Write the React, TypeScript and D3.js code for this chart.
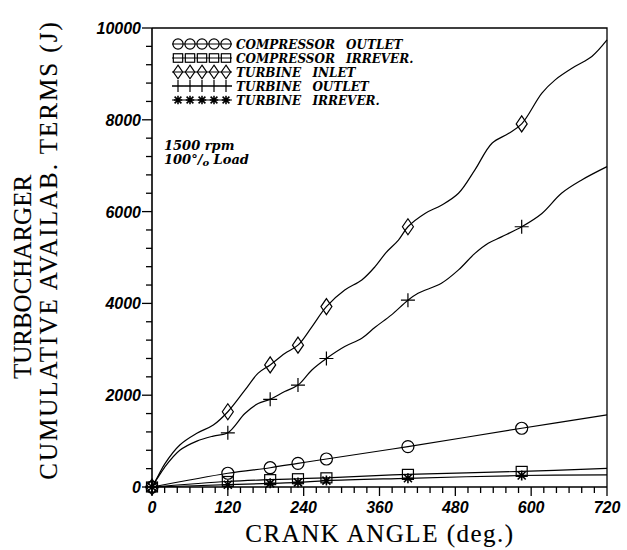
import React from "react";
import * as d3 from "d3";

// ---- data (crank angle in deg, cumulative availability terms in J) ----
const turbineInlet: [number, number][] = [
  [0, 0], [10, 250], [20, 500], [44, 915], [71, 1170], [97, 1350], [120, 1640],
  [147, 2110], [168, 2480], [187, 2660], [210, 2910], [231, 3090], [253, 3490],
  [276, 3930], [305, 4290], [332, 4510], [353, 4800], [370, 5100], [390, 5380],
  [405, 5670], [432, 5960], [458, 6140], [485, 6400], [511, 6910], [538, 7490],
  [564, 7700], [585, 7910], [617, 8580], [638, 8870], [669, 9160], [696, 9380], [720, 9740],
];
const turbineOutlet: [number, number][] = [
  [0, 0], [10, 220], [20, 430], [44, 800], [71, 1000], [97, 1110], [120, 1180],
  [147, 1600], [168, 1820], [187, 1910], [210, 2080], [231, 2220], [253, 2550],
  [276, 2800], [305, 3060], [332, 3240], [353, 3480], [379, 3750], [405, 4070],
  [421, 4220], [458, 4440], [485, 4730], [511, 5090], [532, 5310], [553, 5450],
  [585, 5670], [617, 5960], [648, 6400], [680, 6690], [720, 6980],
];
const compressorOutlet: [number, number][] = [
  [0, 0], [120, 300], [187, 420], [231, 515], [276, 610], [405, 880], [585, 1280], [720, 1570],
];
const compressorIrrever: [number, number][] = [
  [0, 0], [120, 120], [187, 160], [231, 180], [276, 200], [405, 275], [585, 340], [720, 405],
];
const turbineIrrever: [number, number][] = [
  [0, 0], [120, 50], [187, 80], [231, 100], [276, 140], [405, 190], [585, 250], [720, 265],
];
const markerAngles = [0, 120, 187, 231, 276, 405, 585];

const legendLabels = [
  "COMPRESSOR OUTLET",
  "COMPRESSOR IRREVER.",
  "TURBINE INLET",
  "TURBINE OUTLET",
  "TURBINE IRREVER.",
];
const xTicks = [0, 120, 240, 360, 480, 600, 720];
const yTicks = [0, 2000, 4000, 6000, 8000, 10000];

type Shape = "circle" | "square" | "diamond" | "plus" | "star";
const seriesList: { data: [number, number][]; shape: Shape }[] = [
  { data: compressorOutlet, shape: "circle" },
  { data: compressorIrrever, shape: "square" },
  { data: turbineInlet, shape: "diamond" },
  { data: turbineOutlet, shape: "plus" },
  { data: turbineIrrever, shape: "star" },
];

const W = 627, H = 550;
const X0 = 152, X1 = 607, Y0 = 487, Y1 = 28;
const x = d3.scaleLinear().domain([0, 720]).range([X0, X1]);
const y = d3.scaleLinear().domain([0, 10000]).range([Y0, Y1]);

function Marker({ shape, cx, cy, s = 1 }: { shape: Shape; cx: number; cy: number; s?: number }) {
  const st = { fill: "none", stroke: "#000", strokeWidth: 1.2 };
  switch (shape) {
    case "circle":
      return <circle cx={cx} cy={cy} r={6 * s} {...st} />;
    case "square":
      return <rect x={cx - 5.5 * s} y={cy - 5 * s} width={11 * s} height={10 * s} {...st} />;
    case "diamond":
      return <path d={`M${cx},${cy - 8 * s}L${cx + 5.5 * s},${cy}L${cx},${cy + 8 * s}L${cx - 5.5 * s},${cy}Z`} {...st} />;
    case "plus":
      return <path d={`M${cx - 7 * s},${cy}H${cx + 7 * s}M${cx},${cy - 7 * s}V${cy + 7 * s}`} {...st} />;
    case "star":
      return (
        <path
          d={`M${cx - 5 * s},${cy}H${cx + 5 * s}M${cx},${cy - 5 * s}V${cy + 5 * s}M${cx - 4 * s},${cy - 4 * s}L${cx + 4 * s},${cy + 4 * s}M${cx - 4 * s},${cy + 4 * s}L${cx + 4 * s},${cy - 4 * s}`}
          {...st}
          strokeWidth={1.6}
        />
      );
  }
}

export default function App() {
  const line = d3
    .line<[number, number]>()
    .x((d) => x(d[0]))
    .y((d) => y(d[1]))
    .curve(d3.curveCatmullRom.alpha(0.5));

  const xMinor = d3.range(0, 721, 20);
  const yMinor = d3.range(0, 10001, 400);

  const tickFont = { fontFamily: "Liberation Sans, Arial, sans-serif", fontWeight: 700, fontStyle: "italic", fontSize: 16 };
  const legendFont = { fontFamily: "DejaVu Serif, serif", fontWeight: 700, fontStyle: "italic", fontSize: 12 };
  const titleFont = { fontFamily: "Liberation Serif, serif", fontSize: 25, stroke: "#000", strokeWidth: 0.15 };

  return (
    <svg width={W} height={H} style={{ position: "absolute", left: 0, top: 0, background: "#fff" }}>
      <rect x={0} y={0} width={W} height={H} fill="#fff" />
      {/* frame */}
      <path d={`M${X0},${Y1}H${X1}V${Y0}`} fill="none" stroke="#000" strokeWidth={1.3} />
      <path d={`M${X0},${Y1}V${Y0}H${X1}`} fill="none" stroke="#000" strokeWidth={1.6} />
      {/* x ticks */}
      {xMinor.map((t) => (
        <line key={"xt" + t} x1={x(t)} x2={x(t)} y1={Y0} y2={Y0 + (t % 120 === 0 ? 9 : 6)} stroke="#000" strokeWidth={1.3} />
      ))}
      {/* y ticks */}
      {yMinor.map((t) => (
        <line key={"yt" + t} x1={X0 - (t % 2000 === 0 ? 10 : 6)} x2={X0} y1={y(t)} y2={y(t)} stroke="#000" strokeWidth={1.3} />
      ))}
      {xTicks.map((t) => (
        <text key={"xl" + t} x={x(t)} y={513} textAnchor="middle" {...tickFont}>{t}</text>
      ))}
      {yTicks.map((t) => (
        <text key={"yl" + t} x={141} y={y(t) + 6} textAnchor="end" {...tickFont}>{t}</text>
      ))}
      {/* axis titles */}
      <text x={380} y={542} textAnchor="middle" {...titleFont} letterSpacing={1.5}>CRANK ANGLE (deg.)</text>
      <text transform="translate(31,277) rotate(-90)" textAnchor="middle" {...titleFont}>TURBOCHARGER</text>
      <text transform="translate(57,250) rotate(-90)" textAnchor="middle" {...titleFont} letterSpacing={2}>CUMULATIVE AVAILAB. TERMS (J)</text>
      {/* series */}
      {seriesList.map((s, i) => (
        <g key={"s" + i}>
          <path d={line(s.data) || ""} fill="none" stroke="#000" strokeWidth={1.2} />
          {s.data
            .filter((d) => markerAngles.includes(d[0]))
            .map((d, j) => (
              <Marker key={j} shape={s.shape} cx={x(d[0])} cy={y(d[1])} />
            ))}
        </g>
      ))}
      {/* legend */}
      {seriesList.map((s, i) => {
        const ly = 44 + i * 14;
        return (
          <g key={"lg" + i}>
            <line x1={172} x2={232} y1={ly} y2={ly} stroke="#000" strokeWidth={1.2} />
            {[178, 190, 202, 214, 226].map((mx) => (
              <Marker key={mx} shape={s.shape} cx={mx} cy={ly} s={0.85} />
            ))}
            <text x={236} y={ly + 4.5} {...legendFont} wordSpacing={7}>{legendLabels[i]}</text>
          </g>
        );
      })}
      {/* annotation */}
      <text x={164} y={150} {...legendFont} fontSize={13}>1500 rpm</text>
      <text x={164} y={164} {...legendFont} fontSize={13}>
        100°/<tspan fontSize={10} dy={2}>o</tspan><tspan dy={-2}> Load</tspan>
      </text>
    </svg>
  );
}
